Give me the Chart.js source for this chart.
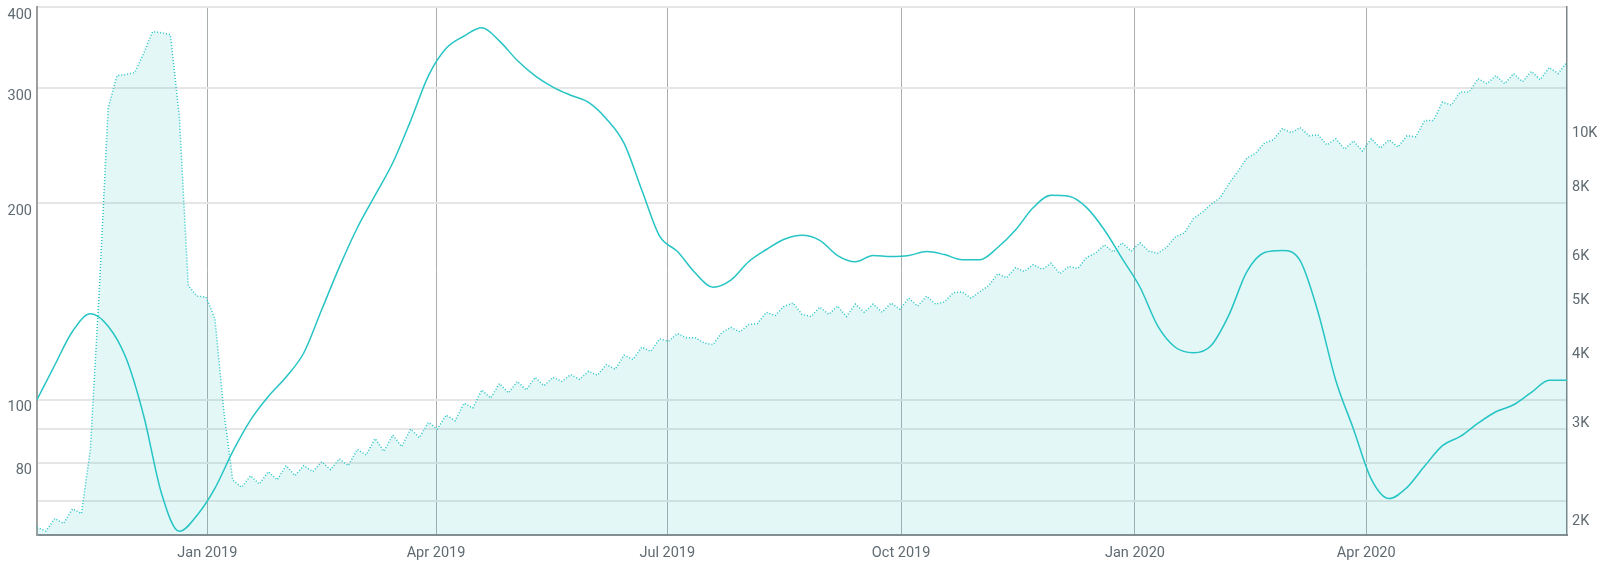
<!DOCTYPE html>
<html>
<head>
<meta charset="utf-8">
<script src="https://cdn.jsdelivr.net/npm/chart.js@4.4.1/dist/chart.umd.min.js"></script>
<style>
  html, body { margin: 0; padding: 0; background: #fff; }
  #wrap { width: 1600px; height: 565px; position: relative; }
</style>
</head>
<body>
<div id="wrap"><canvas id="chart"></canvas></div>
<script>
"use strict";

// x runs in days counted from the first sample
const startDate = "2018-10-26";
const lastDay = 602;

const monthTickDates = ["2019-01-01", "2019-04-01", "2019-07-01", "2019-10-01", "2020-01-01", "2020-04-01"];
const monthTickLabels = ["Jan 2019", "Apr 2019", "Jul 2019", "Oct 2019", "Jan 2020", "Apr 2020"];

const leftTicks = [70, 80, 90, 100, 200, 300, 400];
const leftTickLabels = ["", "80", "", "100", "200", "300", "400"];
const rightTicks = [2000, 3000, 4000, 5000, 6000, 8000, 10000];
const rightTickLabels = ["2K", "3K", "4K", "5K", "6K", "8K", "10K"];

// solid line, one value a week (left axis)
const lineStepDays = 7;
const lineValues = [
  100, 113, 127.3, 135.4, 129.6, 115.9, 94.4, 71.8, 62.8, 66.5,
  73.1, 83.2, 93.0, 101.1, 108.3, 118.0, 137.3, 159.8, 183.3, 205.7,
  230.8, 267.6, 313.7, 345.7, 361.0, 371.6, 354.6, 331.1, 313.7, 301.5,
  292.9, 285.6, 269.6, 247.2, 209.5, 178.1, 168.7, 156.4, 148.7, 152.5,
  162.7, 169.9, 176.2, 178.7, 175.5, 166.3, 162.7, 166.3, 165.7, 166.3,
  168.7, 166.9, 163.9, 163.9, 171.1, 182.0, 197.0, 205.7, 205.0, 197.0,
  182.0, 164.5, 148.7, 129.6, 120.2, 118.0, 121.1, 134.9, 157.0, 168.1,
  169.3, 163.3, 136.4, 107.1, 90.1, 75.5, 70.5, 73.3, 79.1, 85.0,
  87.8, 92.0, 95.8, 98.2, 102.6, 107.1, 107.1
];

// dotted filled series, one value every half week (right axis)
const areaStepDays = 3.5;
const areaValues = [
  1890, 1860, 1960, 1920, 2040, 2000, 2610, 5040, 10750, 12310,
  12360, 12470, 13510, 14770, 14700, 14580, 10390, 5150, 4930, 4910,
  4490, 3060, 2300, 2230, 2340, 2260, 2380, 2300, 2440, 2340,
  2440, 2380, 2480, 2400, 2510, 2440, 2610, 2550, 2730, 2590,
  2770, 2640, 2840, 2740, 2920, 2840, 3010, 2940, 3160, 3100,
  3340, 3230, 3430, 3300, 3460, 3340, 3520, 3400, 3520, 3460,
  3560, 3490, 3610, 3550, 3710, 3640, 3860, 3790, 3990, 3920,
  4130, 4090, 4220, 4150, 4150, 4060, 4030, 4240, 4330, 4250,
  4380, 4400, 4610, 4550, 4730, 4790, 4570, 4530, 4710, 4570,
  4730, 4530, 4770, 4610, 4770, 4610, 4790, 4670, 4890, 4730,
  4930, 4770, 4810, 5000, 5020, 4890, 5020, 5150, 5410, 5320,
  5550, 5460, 5620, 5510, 5650, 5410, 5580, 5530, 5790, 5890,
  6100, 5920, 6150, 5940, 6150, 5940, 5890, 6040, 6310, 6410,
  6800, 6980, 7220, 7410, 7860, 8270, 8740, 8920, 9310, 9430,
  9880, 9710, 9920, 9590, 9630, 9230, 9470, 9070, 9390, 9000,
  9470, 9110, 9430, 9150, 9590, 9550, 10220, 10220, 11030, 10890,
  11500, 11500, 12150, 11900, 12310, 11900, 12410, 12000, 12520, 12100,
  12730, 12410, 13010
];

const dayOf = (d) => (Date.parse(d) - Date.parse(startDate)) / 86400000;
const monthTickDays = monthTickDates.map(dayOf);

const linePoints = lineValues.map((v, i) => ({ x: i * lineStepDays, y: v }));
const areaPoints = areaValues.map((v, i) => ({ x: i * areaStepDays, y: v }));

const teal = "#26c4c4";

Chart.defaults.font.family = "Roboto";
Chart.defaults.font.size = 14.5;
Chart.defaults.color = "#5f6a71";

const ctx = document.getElementById("chart").getContext("2d");
const chart = new Chart(ctx, {
  type: "line",
  data: {
    datasets: [
      {
        data: linePoints,
        yAxisID: "y",
        borderColor: teal,
        borderWidth: 1.5,
        pointRadius: 0,
        fill: false,
        cubicInterpolationMode: "monotone",
      },
      {
        data: areaPoints,
        yAxisID: "y1",
        borderColor: teal,
        borderWidth: 1.5,
        borderDash: [1, 2],
        pointRadius: 0,
        tension: 0,
        fill: "start",
        backgroundColor: "rgba(38, 196, 196, 0.13)",
      },
    ],
  },
  options: {
    responsive: true,
    maintainAspectRatio: false,
    animation: false,
    layout: { padding: { top: 7, left: 0, right: 0, bottom: 0 } },
    plugins: { legend: { display: false }, tooltip: { enabled: false } },
    scales: {
      x: {
        type: "linear",
        min: 0,
        max: lastDay,
        afterBuildTicks: (s) => { s.ticks = monthTickDays.map((d) => ({ value: d })); },
        afterFit: (s) => { s.height = 30; s.paddingLeft = 0; s.paddingRight = 0; },
        ticks: {
          autoSkip: false,
          maxRotation: 0,
          padding: 10,
          callback: (v, i) => monthTickLabels[i],
        },
        grid: { color: "#a9aeae", lineWidth: 1, drawTicks: false },
        border: { color: "#868c8f", width: 2 },
      },
      y: {
        type: "logarithmic",
        position: "left",
        min: 62,
        max: 400,
        afterBuildTicks: (s) => { s.ticks = leftTicks.map((v) => ({ value: v })); },
        afterFit: (s) => { s.width = 37; s.paddingTop = 0; s.paddingBottom = 0; },
        ticks: {
          autoSkip: false,
          padding: 5,
          labelOffset: 8,
          callback: (v, i) => leftTickLabels[i],
        },
        grid: { color: "#e6e6e6", lineWidth: 2, drawTicks: false },
        border: { color: "#9e9e9e", width: 2 },
      },
      y1: {
        type: "logarithmic",
        position: "right",
        min: 1830,
        max: 16360,
        afterBuildTicks: (s) => { s.ticks = rightTicks.map((v) => ({ value: v })); },
        afterFit: (s) => { s.width = 33; s.paddingTop = 0; s.paddingBottom = 0; },
        ticks: {
          autoSkip: false,
          padding: 5,
          labelOffset: 8,
          callback: (v, i) => rightTickLabels[i],
        },
        grid: { display: false, drawTicks: false },
        border: { color: "#7d8588", width: 1.5 },
      },
    },
  },
});
</script>
</body>
</html>
